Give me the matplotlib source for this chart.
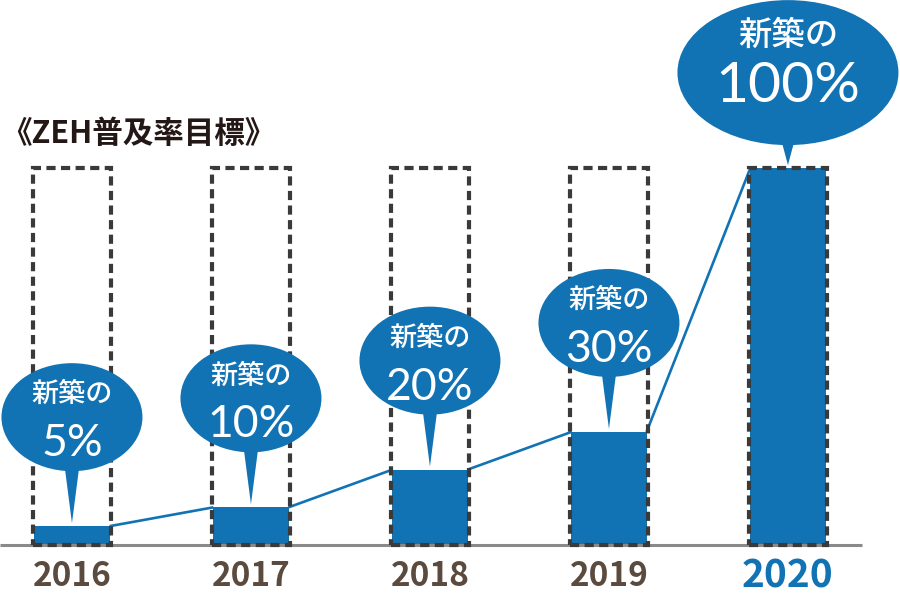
import matplotlib
matplotlib.use("Agg")
import matplotlib.pyplot as plt
from matplotlib.patches import Ellipse, Polygon, Rectangle

# chart data
years = ["2016", "2017", "2018", "2019", "2020"]
targets = [5, 10, 20, 30, 100]
pct_labels = ["5%", "10%", "20%", "30%", "100%"]
bubble_head = "新築の"
title = "《ZEH普及率目標》"

blue = "#1273b4"
brown = "#5b4a3e"
dash_col = "#3a3a3a"
base_col = "#8a8a8a"
cjk = ["Noto Sans CJK JP", "DejaVu Sans"]
num_font = ["Lato", "Noto Sans CJK JP", "DejaVu Sans"]

fig = plt.figure(figsize=(9, 5.95), dpi=100)
ax = fig.add_axes([0, 0, 1, 1])
xmin, xmax = -0.402, 4.626
ymin, ymax = -13.26, 144.6
ax.set_xlim(xmin, xmax)
ax.set_ylim(ymin, ymax)
ax.axis("off")
px = (xmax - xmin) / 900.0   # data units per pixel
py = (ymax - ymin) / 595.0

x = list(range(len(years)))
w = 0.42
top = max(targets)

ax.bar(x, targets, width=w, color=blue, zorder=2)

# baseline
ax.plot([xmin, xmin + 862 * px], [0, 0], color=base_col, lw=2.2, zorder=2.5,
        solid_capstyle="butt")

# dashed target boxes
for i in x:
    ax.add_patch(Rectangle((i - w / 2 - 1 * px, 0), w + 2 * px, top, fill=False,
                           ec=dash_col, lw=3, ls=(0, (2.2, 1.3)), zorder=3))

# connecting line between bar tops
for i in x[:-1]:
    ax.plot([i + w / 2, i + 1 - w / 2], [targets[i], targets[i + 1]],
            color=blue, lw=1.9, zorder=2.8, solid_capstyle="butt")

# speech bubbles
for i, v in enumerate(targets):
    big = i == len(targets) - 1
    ew, eh = (221, 145) if big else (141, 108)
    gap = 23 if big else 55
    cy = v + (gap + eh / 2) * py
    ax.add_patch(Ellipse((i, cy), ew * px, eh * py, color=blue, lw=0, zorder=4))
    yb = cy - (eh / 2 - 10) * py
    ax.add_patch(Polygon([(i - 8 * px, yb), (i + 8 * px, yb), (i, v + 3 * py)],
                         closed=True, color=blue, lw=0, zorder=4))
    head_dy = 37 if big else 22.5
    ax.text(i, cy + head_dy * py, bubble_head, color="white", ha="center", va="center",
            fontsize=24 if big else 19.5, family=cjk, weight="medium", zorder=5)
    pct_dy = 29 if big else 39
    ax.text(i, cy - pct_dy * py, pct_labels[i], color="white", ha="center", va="baseline",
            fontsize=41 if big else 32, family=num_font, weight="normal", zorder=5)

# year labels
for i, yr in enumerate(years):
    last = i == len(years) - 1
    ax.text(i, -31 * py, yr, color=blue if last else brown, ha="center", va="center",
            fontsize=28 if last else 24, family=cjk, weight="bold")

ax.text(xmin + 1 * px, (545 - 134) * py, title, color="#231815", ha="left", va="center",
        fontsize=22, family=cjk, weight="bold")

fig.savefig("out.png", dpi=100)
